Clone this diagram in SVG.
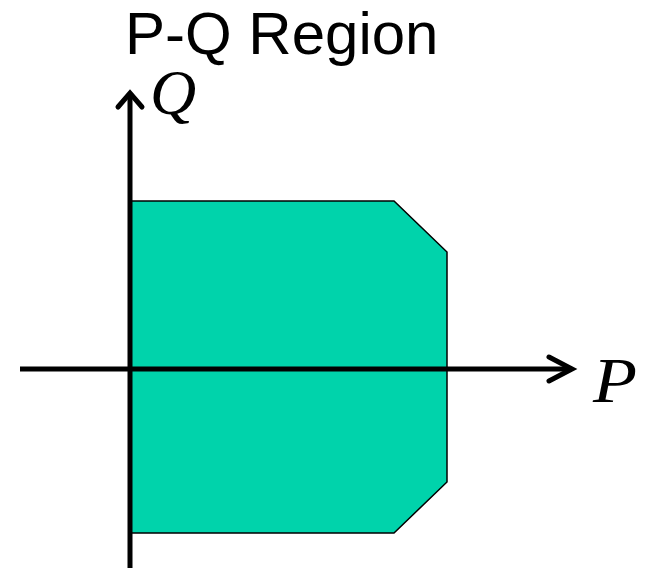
<svg xmlns="http://www.w3.org/2000/svg" width="648" height="568" viewBox="0 0 648 568">
<style>
.axis{stroke:#000;stroke-width:5;fill:none}
.head{stroke:#000;stroke-width:5;fill:none;stroke-linecap:round;stroke-linejoin:miter}
.lbl{font-family:"Liberation Serif",serif;font-style:italic;font-size:64px;fill:#000}
.title{font-family:"Liberation Sans",Arial,sans-serif;font-size:60px;fill:#000}
</style>
<rect width="648" height="568" fill="#fff"/>
<text class="title" x="125" y="54">P-Q Region</text>
<g id="region">
<polygon points="130,201 394,201 447,252 447,482 394,533 130,533" fill="#00D3AB" stroke="#000" stroke-width="1.5"/>
</g>
<g id="connectors">
<line class="axis" x1="20" y1="369" x2="571" y2="369"/>
<polyline class="head" points="549,357 572,369 549,381"/>
<line class="axis" x1="130" y1="568" x2="130" y2="95"/>
<polyline class="head" points="118,107 130,93 142,107"/>
</g>
<g id="labelP"><text class="lbl" x="593" y="402" font-size="66" textLength="44" lengthAdjust="spacingAndGlyphs">P</text></g>
<g id="labelQ"><text class="lbl" x="150" y="114">Q</text></g>
</svg>
